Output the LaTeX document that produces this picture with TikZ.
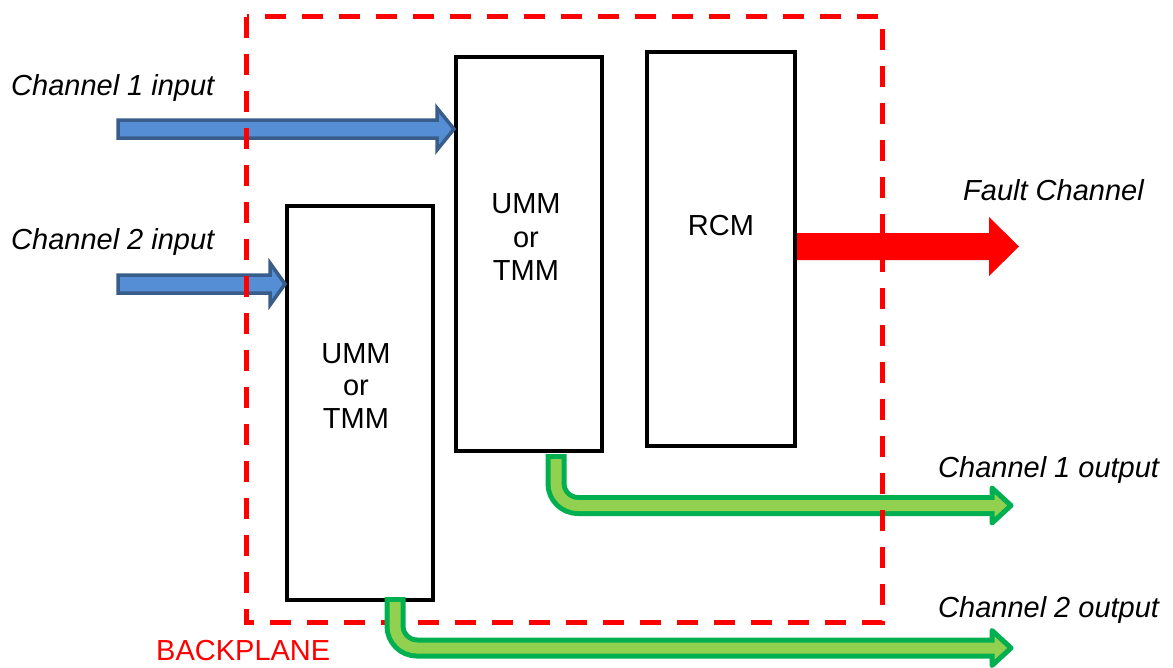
\documentclass[tikz,border=0pt]{standalone}
\usepackage{fontspec}
\setmainfont{Liberation Sans}
\definecolor{bluefill}{RGB}{85,142,213}
\definecolor{blueline}{RGB}{56,93,138}
\definecolor{greenfill}{RGB}{146,208,80}
\definecolor{greenline}{RGB}{0,176,80}
\begin{document}
\begin{tikzpicture}[x=1pt,y=-1pt,
  modbox/.style={draw=black,line width=4pt,fill=white,minimum width=146pt,minimum height=394pt,inner sep=0pt},
  lbl/.style={font=\fontsize{29}{33}\selectfont\itshape,anchor=base west,inner sep=0pt},
  boxtxt/.style={font=\fontsize{29}{33}\selectfont,anchor=base,inner sep=0pt},
  bluearrow/.style={fill=bluefill,draw=blueline,line width=3.5pt,line join=miter},
  gouter/.style={draw=greenline,line width=21pt,rounded corners=22pt},
  ginner/.style={draw=greenfill,line width=11pt,rounded corners=22pt},
  ghead/.style={fill=greenfill,draw=greenline,line width=5pt,line join=round},
  backplane/.style={draw=red,line width=5pt,dash pattern=on 21pt off 16pt}]
\useasboundingbox (0,0) rectangle (1173,667);
% boxes
\node[modbox] (A) at (360,403) {};
\node[modbox] (B) at (529,254) {};
\node[modbox,minimum width=148pt] (C) at (721,249) {};
% box texts
\node[boxtxt] (a1) at (356,363) {UMM};
\node[boxtxt] (a2) at (356,395) {or};
\node[boxtxt] (a3) at (356,428) {TMM};
\node[boxtxt] (b1) at (526,213) {UMM};
\node[boxtxt] (b2) at (526,247) {or};
\node[boxtxt] (b3) at (526,280) {TMM};
\node[boxtxt] (c1) at (721,235) {RCM};
% labels
\node[lbl] (l1) at (11,95) {Channel 1 input};
\node[lbl] (l2) at (11,249) {Channel 2 input};
\node[lbl] (l3) at (963,200) {Fault Channel};
\node[lbl] (l4) at (938,477) {Channel 1 output};
\node[lbl] (l5) at (938,617) {Channel 2 output};
\node[font=\fontsize{29}{33}\selectfont,text=red,anchor=base west,inner sep=0pt] (bp) at (156,660) {BACKPLANE};
% blue input arrows
\coordinate (in1) at (118,129);
\coordinate (in2) at (118,284);
\draw[bluearrow] (in1) ++(0,-9) -- ++(319,0) -- ++(0,-12) -- (B.west |- in1) -- (437,150) -- ++(0,-12) -- (118,138) -- cycle;
\draw[bluearrow] (in2) ++(0,-9) -- ++(152,0) -- ++(0,-12) -- (A.west |- in2) -- (270,305) -- ++(0,-12) -- (118,293) -- cycle;
% fault arrow
\coordinate (f0) at (797,246.5);
\fill[red] (f0) ++(0,-13.5) -- (989,233) -- (989,217) -- (1019,246.5) -- (989,276) -- (989,260) -- (797,260) -- cycle;
% channel 1 output
\coordinate (o1s) at (556,454);
\coordinate (o1c) at (556,505.5);
\coordinate (o1e) at (996,505.5);
\draw[gouter] (o1s) -- (o1c) -- (o1e);
\draw[ghead] (992,488) -- (1011,505.5) -- (992,523) -- cycle;
\draw[ginner] ([yshift=-5pt]o1s) -- (o1c) -- (o1e);
% backplane
\node[draw=none,inner sep=0pt,minimum width=635pt,minimum height=605pt] (BP) at (564.5,319.5) {};
\draw[backplane] (BP.north west) rectangle (BP.south east);
% channel 2 output
\coordinate (o2s) at (395,597);
\coordinate (o2c) at (395,648);
\coordinate (o2e) at (996,648);
\draw[gouter] (o2s) -- (o2c) -- (o2e);
\draw[ghead] (992,630.5) -- (1011,648) -- (992,665.5) -- cycle;
\draw[ginner] ([yshift=-5pt]o2s) -- (o2c) -- (o2e);
\end{tikzpicture}
\end{document}
